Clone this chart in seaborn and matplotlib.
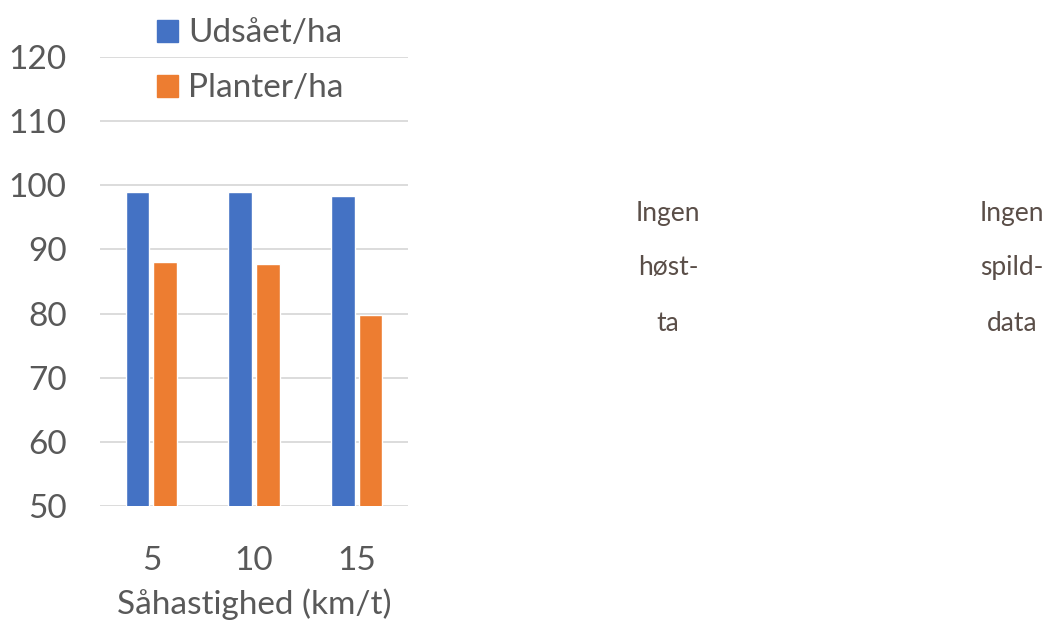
import matplotlib
matplotlib.use("Agg")
import matplotlib.pyplot as plt
import seaborn as sns
import pandas as pd

# Sowing speed trial: sown vs. established plants per hectare
speeds = ["5", "10", "15"]
udsaaet = [98.9, 98.9, 98.3]
planter = [88.0, 87.7, 79.8]
series_names = ["Udsået/ha", "Planter/ha"]
y_ticks = [50, 60, 70, 80, 90, 100, 110, 120]
notes = [["Ingen", "høst-", "ta"], ["Ingen", "spild-", "data"]]

df = pd.DataFrame({
    "speed": speeds * 2,
    "value": udsaaet + planter,
    "series": [series_names[0]] * len(speeds) + [series_names[1]] * len(speeds),
})

sns.set_theme(style="white")
plt.rcParams["font.family"] = ["Lato", "DejaVu Sans"]

text_col = "#595959"
grid_col = "#D9D9D9"
palette = {series_names[0]: "#4472C4", series_names[1]: "#ED7D31"}
big = 24

fig = plt.figure(figsize=(10.56, 6.28), dpi=100)
ax = fig.add_axes([0.0947, 0.1943, 0.2917, 0.7149])

sns.barplot(data=df, x="speed", y="value", hue="series", order=speeds,
            hue_order=series_names, palette=palette, width=0.54, gap=0.15,
            saturation=1, ax=ax, legend=False)

ax.set_ylim(50, 120)
ax.set_xlim(-0.5, 2.5)
ax.set_yticks(y_ticks)
ax.grid(axis="y", color=grid_col, linewidth=1.3)
ax.set_axisbelow(True)
for s in ax.spines.values():
    s.set_visible(False)
ax.tick_params(axis="both", length=0, labelsize=big, labelcolor=text_col)
ax.tick_params(axis="y", pad=24)
ax.tick_params(axis="x", pad=29)
ax.set_ylabel("")
ax.set_xlabel("Såhastighed (km/t)", fontsize=big, color=text_col, labelpad=9)

handles = [plt.Rectangle((0, 0), 1, 1, color=palette[n]) for n in series_names]
fig.legend(handles, series_names, loc="upper left",
           bbox_to_anchor=(0.131, 1.0), frameon=False, fontsize=big,
           labelcolor=text_col, handlelength=0.65, handleheight=0.65,
           handletextpad=0.3, labelspacing=0.75, borderaxespad=0.15)

note_col = "#5A4E48"
for x_px, lines in zip([668, 1012], notes):
    for y_px, line in zip([213, 268, 323], lines):
        fig.text(x_px / 1056, 1 - y_px / 628, line, ha="center", va="center",
                 fontsize=19, color=note_col)

fig.savefig("out.png", dpi=100)
